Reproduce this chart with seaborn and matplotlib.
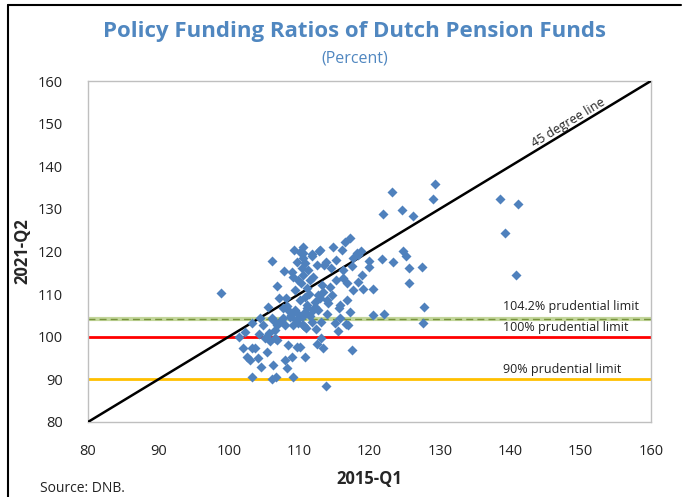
"""
Policy funding ratios of Dutch pension funds: 2015-Q1 vs 2021-Q2 scatter.
"""

import matplotlib
matplotlib.use("Agg")
import matplotlib.pyplot as plt
import matplotlib.lines as mlines
import pandas as pd
import seaborn as sns

# --- data ----------------------------------------------------------------
ratio_2015q1 = [
    98.9, 123.2, 129.3, 129.1, 121.9, 124.6, 126.2, 138.5, 141.1, 139.2,
    140.9, 127.7, 127.6, 122.0, 120.5, 125.6, 127.4, 125.6, 123.3, 121.8,
    124.7, 125.2, 106.1, 107.8, 109.0, 106.8, 107.1, 108.1, 110.1, 109.8,
    110.4, 110.5, 110.8, 110.5, 117.2, 116.5, 114.8, 116.1, 113.0, 111.8,
    118.8, 118.4, 110.5, 113.8, 114.5, 116.2, 117.6, 117.5, 119.9, 119.9,
    118.9, 116.2, 116.8, 118.4, 119.1, 120.5, 117.6, 112.0, 111.5, 113.2,
    114.4, 113.4, 114.7, 111.1, 110.8, 111.1, 112.2, 115.8, 116.8, 112.8,
    118.2, 111.1, 112.0, 112.7, 113.9, 115.7, 117.2, 115.8, 115.1, 116.9,
    115.5, 110.4, 111.8, 110.5, 111.0, 113.1, 113.1, 112.5, 113.4, 117.5,
    110.8, 113.8, 110.1, 116.6, 101.4, 102.3, 103.3, 104.9, 104.4, 106.3,
    107.7, 106.8, 106.6, 108.0, 109.1, 108.7, 109.7, 107.7, 108.4, 109.4,
    105.1, 106.6, 102.0, 103.3, 103.7, 102.6, 103.0, 104.1, 105.4, 108.4,
    109.7, 109.0, 108.0, 104.6, 106.3, 108.3, 103.3, 106.7, 106.1, 109.1,
    108.3, 106.1, 106.8, 105.7, 109.8, 109.7, 109.4, 112.6, 112.7, 110.1,
    109.3, 115.2, 115.2, 113.9, 108.9, 110.9, 111.6, 112.3, 109.6, 110.2,
    111.4, 112.9, 114.1, 113.6, 109.2, 111.9, 110.6, 107.4, 105.9, 104.3,
    105.6, 110.7, 112.4, 111.3,
]
ratio_2021q2 = [
    110.3, 134.0, 135.9, 132.3, 128.8, 129.8, 128.4, 132.3, 131.2, 124.4,
    114.5, 107.0, 103.2, 105.4, 105.1, 116.1, 116.4, 112.6, 117.6, 118.3,
    120.1, 119.0, 117.8, 115.4, 115.2, 111.9, 109.1, 109.1, 119.9, 113.3,
    116.2, 118.5, 117.3, 114.5, 123.2, 122.3, 121.1, 120.4, 120.4, 119.4,
    120.1, 119.2, 119.7, 117.6, 116.2, 115.7, 118.5, 116.6, 117.8, 116.4,
    114.5, 113.8, 112.6, 112.9, 111.2, 111.2, 111.0, 114.0, 113.3, 112.2,
    111.7, 110.5, 109.8, 111.5, 109.3, 107.5, 107.0, 107.5, 108.6, 120.1,
    119.7, 106.8, 106.3, 106.3, 105.4, 106.8, 105.8, 104.4, 103.2, 102.8,
    101.4, 104.6, 103.5, 102.8, 102.1, 103.5, 99.7, 98.3, 97.4, 96.9,
    95.3, 88.5, 97.6, 103.0, 100.0, 101.1, 103.2, 102.8, 104.4, 103.9,
    104.4, 102.8, 101.6, 102.8, 102.8, 104.6, 105.6, 106.8, 106.3, 106.3,
    99.7, 99.7, 97.4, 97.4, 97.4, 95.3, 94.6, 95.0, 96.4, 98.1,
    97.6, 95.3, 94.6, 92.9, 93.4, 92.7, 90.6, 90.6, 90.1, 90.6,
    107.2, 104.4, 99.2, 100.9, 103.2, 117.6, 111.0, 116.9, 109.8, 108.6,
    120.4, 113.3, 118.0, 108.6, 105.2, 105.9, 104.9, 108.1, 103.9, 112.6,
    110.1, 109.2, 107.9, 116.9, 114.0, 118.9, 121.0, 103.6, 98.9, 100.6,
    106.9, 102.4, 101.7, 115.6,
]

axis_range = [80, 160]
axis_ticks = [80, 90, 100, 110, 120, 130, 140, 150, 160]
limit_levels = [104.2, 100, 90]
limit_labels = ["104.2% prudential limit", "100% prudential limit", "90% prudential limit"]
label_x = 139.0
label_y = [107.0, 102.1, 92.2]

df = pd.DataFrame({"q1_2015": ratio_2015q1, "q2_2021": ratio_2021q2})

# --- style ------------------------------------------------------------------
sns.set_style("white")
plt.rcParams["font.family"] = ["Open Sans", "DejaVu Sans"]

BLUE = "#4F81BD"
TITLE = "#5087C0"

fig = plt.figure(figsize=(6.88, 4.97), dpi=100)
ax = fig.add_axes([0.128, 0.151, 0.818, 0.686])

# prudential limits
ax.axhline(limit_levels[0], color="#C3D69B", lw=3.0, zorder=2)
ax.axhline(limit_levels[0], color="#76923C", lw=1.0, ls=(0, (5, 3)), zorder=2)
ax.axhline(limit_levels[1], color="#FF0000", lw=2.0, zorder=2)
ax.axhline(limit_levels[2], color="#FFC000", lw=2.0, zorder=2)

# 45 degree line
sns.lineplot(x=axis_range, y=axis_range, color="black", lw=1.8, ax=ax, zorder=3)

sns.scatterplot(data=df, x="q1_2015", y="q2_2021", marker="D", s=26,
                color=BLUE, edgecolor=BLUE, linewidth=0, ax=ax, zorder=4)

for lvl_y, txt in zip(label_y, limit_labels):
    ax.text(label_x, lvl_y, txt, fontsize=9, ha="left", va="center", color="#222222")

ax.text(148.8, 148.9, "45 degree line", fontsize=9, rotation=31.2,
        rotation_mode="anchor", ha="center", va="bottom", color="#222222")

ax.set_xlim(axis_range)
ax.set_ylim(axis_range)
ax.set_xticks(axis_ticks)
ax.set_yticks(axis_ticks)
ax.tick_params(axis="both", direction="in", length=4, color="#A6A6A6",
               labelsize=10.5, labelcolor="#222222")
ax.tick_params(axis="x", pad=16)
ax.tick_params(axis="y", pad=18, length=0)
for sp in ax.spines.values():
    sp.set_color("#BFBFBF")
    sp.set_linewidth(1.0)

ax.set_xlabel("2015-Q1", fontsize=12, fontweight="bold")
ax.set_ylabel("2021-Q2", fontsize=12, fontweight="bold")
ax.xaxis.set_label_coords(0.50, -0.14)
ax.yaxis.set_label_coords(-0.10, 0.50)

fig.text(0.515, 0.937, "Policy Funding Ratios of Dutch Pension Funds",
         ha="center", va="center", fontsize=16, fontweight="bold", color=TITLE)
fig.text(0.515, 0.883, "(Percent)", ha="center", va="center",
         fontsize=11.5, color=TITLE)
fig.text(0.058, 0.018, "Source: DNB.", ha="left", va="center", fontsize=10,
         color="#222222")

# outer frame (left and top edges)
fig.add_artist(mlines.Line2D([0.012, 0.012], [0.0, 0.99], color="black", lw=1.5))
fig.add_artist(mlines.Line2D([0.012, 0.99], [0.99, 0.99], color="black", lw=1.5))

fig.savefig("out.png", dpi=100)
